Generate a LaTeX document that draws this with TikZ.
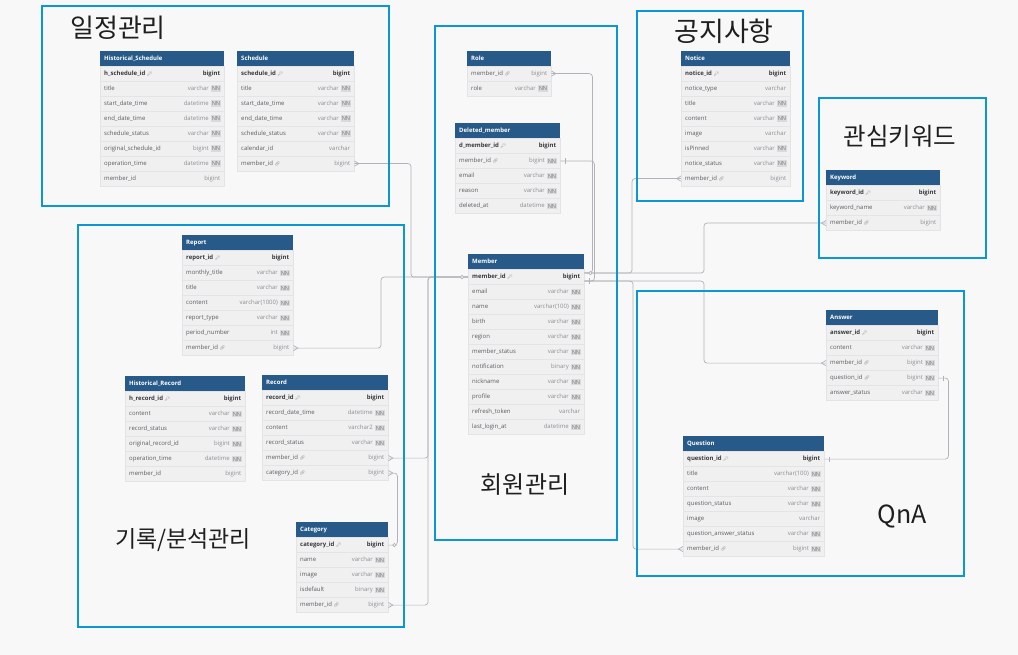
\documentclass[tikz,border=0pt]{standalone}
\usepackage{fontspec}
\setmainfont{Open Sans}
\newfontfamily\hangul{Noto Sans CJK KR}
\newfontfamily\emojifont{Noto Emoji}
\usetikzlibrary{positioning,calc}
\tikzset{>=latex}

\definecolor{erbgcol}{HTML}{F8F8F9}
\definecolor{erheadcol}{HTML}{285A89}
\definecolor{errowcol}{HTML}{F0F0F1}
\definecolor{errowline}{HTML}{E4E4E7}
\definecolor{ertextcol}{HTML}{5C5C60}
\definecolor{erdarkcol}{HTML}{3A3A3E}
\definecolor{ertypecol}{HTML}{8E8E93}
\definecolor{ernncol}{HTML}{DADADD}
\definecolor{ernntext}{HTML}{77777C}
\definecolor{ericoncol}{HTML}{8A8A90}
\definecolor{erlinecol}{HTML}{B2B2BA}
\definecolor{ergroupcol}{HTML}{0B97D3}

\tikzset{
  erhead/.style={fill=erheadcol, minimum height=15pt, inner sep=0pt},
  ertitle/.style={text=white, font=\fontsize{6}{7}\selectfont\bfseries, inner sep=0pt},
  errow/.style={fill=errowcol, draw=errowline, line width=0.4pt, minimum height=15pt, inner sep=0pt},
  ername/.style={text=ertextcol, font=\fontsize{6}{7}\selectfont, inner sep=0pt, text height=4.4pt, text depth=1.3pt},
  ertype/.style={text=ertypecol, font=\fontsize{6}{7}\selectfont, inner sep=0pt, text height=4.4pt, text depth=1.3pt},
  ernn/.style={fill=ernncol, text=ernntext, font=\fontsize{5.6}{6}\selectfont, inner xsep=1pt, inner ysep=1.2pt, text height=4pt, text depth=0pt},
  erline/.style={draw=erlinecol, line width=0.7pt},
  group/.style={draw=ergroupcol, line width=2pt},
  grouptitle/.style={font=\hangul\fontsize{#1}{#1}\selectfont, text=black!88},
  grouptitle/.default=24,
  ercrow/.pic={\draw[erline] (0,-2.6) -- (4.5,0) -- (0,2.6);},
  erone/.pic={\draw[erline] (4.5,-2.6) -- (4.5,2.6);},
  erzero/.pic={\draw[erline, fill=erbgcol] (6,0) circle (1.7);}
}

\newcommand{\keyicon}{\hspace{1.5pt}{\emojifont\fontsize{4.5}{5}\selectfont\color{ericoncol}🔑}}
\newcommand{\linkicon}{\hspace{1.5pt}{\emojifont\fontsize{4.5}{5}\selectfont\color{ericoncol}🔗}}

\pgfkeys{
  /er/pk/.code={\def\erfont{\bfseries\color{erdarkcol}}\def\ericon{\keyicon}},
  /er/fk/.code={\def\ericon{\linkicon}},
  /er/nn/.code={\def\ernn{NN}},
  /er/fknn/.code={\def\ericon{\linkicon}\def\ernn{NN}},
  /er/plain/.code={}
}

% table header: id, x, y, width, title
\newcommand{\ertable}[5]{%
  \expandafter\gdef\csname erw#1\endcsname{#4}%
  \node[erhead, minimum width=#4, anchor=north west] (#1) at (#2,#3) {};
  \node[ertitle, anchor=west] (#1-title) at ([xshift=4pt]#1.west) {#5};}

% table row: id, row, name, type, flag
\newcommand{\erfield}[5]{%
  \def\erfont{}\def\ericon{}\def\ernn{}%
  \edef\ertmp{\noexpand\pgfkeys{/er/#5}}\ertmp
  \edef\erwidth{\csname erw#1\endcsname}%
  \node[errow, minimum width=\erwidth, anchor=north west] (#1-#2) at ($(#1.south west)+(0,{15*(#2-1)})$) {};
  \node[ername, anchor=west] (#1-#2-n) at ([xshift=4pt]#1-#2.west) {\erfont #3\ericon};
  \ifx\ernn\empty
    \node[ertype, anchor=east] (#1-#2-t) at ([xshift=-4pt]#1-#2.east) {\erfont #4};
  \else
    \node[ernn, anchor=east] (#1-#2-nn) at ([xshift=-3pt]#1-#2.east) {NN};
    \node[ertype, anchor=east] (#1-#2-t) at ([xshift=-1.5pt]#1-#2-nn.west) {#4};
  \fi}

\begin{document}
\begin{tikzpicture}[x=1pt, y=-1pt]
	\path[fill=erbgcol, use as bounding box] (0,0) rectangle (1018,655);

	% Tables

	\ertable{hschedule}{100}{50.5}{124}{Historical\_Schedule}
	\foreach \n/\t/\f [count=\k] in {h\_schedule\_id/bigint/pk, title/varchar/nn, start\_date\_time/datetime/nn, end\_date\_time/datetime/nn, schedule\_status/varchar/nn, original\_schedule\_id/bigint/nn, operation\_time/datetime/nn, member\_id/bigint/plain}
		{\erfield{hschedule}{\k}{\n}{\t}{\f}}

	\ertable{schedule}{237}{50.5}{117}{Schedule}
	\foreach \n/\t/\f [count=\k] in {schedule\_id/bigint/pk, title/varchar/nn, start\_date\_time/varchar/nn, end\_date\_time/varchar/nn, schedule\_status/varchar/nn, calendar\_id/varchar/plain, member\_id/bigint/fk}
		{\erfield{schedule}{\k}{\n}{\t}{\f}}

	\ertable{role}{467}{50.5}{84}{Role}
	\foreach \n/\t/\f [count=\k] in {member\_id/bigint/fk, role/varchar/nn}
		{\erfield{role}{\k}{\n}{\t}{\f}}

	\ertable{deleted}{455}{123}{105}{Deleted\_member}
	\foreach \n/\t/\f [count=\k] in {d\_member\_id/bigint/pk, member\_id/bigint/fknn, email/varchar/nn, reason/varchar/nn, deleted\_at/datetime/nn}
		{\erfield{deleted}{\k}{\n}{\t}{\f}}

	\ertable{member}{468}{254}{116}{Member}
	\foreach \n/\t/\f [count=\k] in {member\_id/bigint/pk, email/varchar/nn, name/varchar(100)/nn, birth/varchar/nn, region/varchar/nn, member\_status/varchar/nn, notification/binary/nn, nickname/varchar/nn, profile/varchar/nn, refresh\_token/varchar/plain, last\_login\_at/datetime/nn}
		{\erfield{member}{\k}{\n}{\t}{\f}}

	\ertable{notice}{681}{50.5}{109}{Notice}
	\foreach \n/\t/\f [count=\k] in {notice\_id/bigint/pk, notice\_type/varchar/plain, title/varchar/nn, content/varchar/nn, image/varchar/plain, isPinned/varchar/nn, notice\_status/varchar/nn, member\_id/bigint/fk}
		{\erfield{notice}{\k}{\n}{\t}{\f}}

	\ertable{keyword}{826}{170}{114}{Keyword}
	\foreach \n/\t/\f [count=\k] in {keyword\_id/bigint/pk, keyword\_name/varchar/nn, member\_id/bigint/fk}
		{\erfield{keyword}{\k}{\n}{\t}{\f}}

	\ertable{report}{182}{235}{111}{Report}
	\foreach \n/\t/\f [count=\k] in {report\_id/bigint/pk, monthly\_title/varchar/nn, title/varchar/nn, content/varchar(1000)/nn, report\_type/varchar/nn, period\_number/int/nn, member\_id/bigint/fk}
		{\erfield{report}{\k}{\n}{\t}{\f}}

	\ertable{hrecord}{125}{376}{120}{Historical\_Record}
	\foreach \n/\t/\f [count=\k] in {h\_record\_id/bigint/pk, content/varchar/nn, record\_status/varchar/nn, original\_record\_id/bigint/nn, operation\_time/datetime/nn, member\_id/bigint/plain}
		{\erfield{hrecord}{\k}{\n}{\t}{\f}}

	\ertable{record}{262}{375}{126}{Record}
	\foreach \n/\t/\f [count=\k] in {record\_id/bigint/pk, record\_date\_time/datetime/nn, content/varchar2/nn, record\_status/varchar/nn, member\_id/bigint/fk, category\_id/bigint/fk}
		{\erfield{record}{\k}{\n}{\t}{\f}}

	\ertable{category}{296}{522}{92}{Category}
	\foreach \n/\t/\f [count=\k] in {category\_id/bigint/pk, name/varchar/nn, image/varchar/nn, isdefault/binary/nn, member\_id/bigint/fk}
		{\erfield{category}{\k}{\n}{\t}{\f}}

	\ertable{answer}{826}{310}{112}{Answer}
	\foreach \n/\t/\f [count=\k] in {answer\_id/bigint/pk, content/varchar/nn, member\_id/bigint/fknn, question\_id/bigint/fknn, answer\_status/varchar/nn}
		{\erfield{answer}{\k}{\n}{\t}{\f}}

	\ertable{question}{683}{436}{141}{Question}
	\foreach \n/\t/\f [count=\k] in {question\_id/bigint/pk, title/varchar(100)/nn, content/varchar/nn, question\_status/varchar/nn, image/varchar/plain, question\_answer\_status/varchar/nn, member\_id/bigint/fknn}
		{\erfield{question}{\k}{\n}{\t}{\f}}

	% Relations

	\draw[erline, rounded corners=3pt] (schedule-7.east) -| ($(member-1.west)+(-57,0)$) -- (member-1.west);
	\draw[erline, rounded corners=3pt] (report-7.east) -| ($(member-1.west)+(-87,0)$) -- (member-1.west);
	\draw[erline, rounded corners=3pt] (record-5.east) -| ($(member-1.west)+(-40,0)$) -- (member-1.west);
	\draw[erline, rounded corners=3pt] (category-5.east) -| ($(member-1.west)+(-40,0)$) -- (member-1.west);
	\draw[erline, rounded corners=3pt] (record-6.east) -| ($(category-1.east)+(9,0)$) -- (category-1.east);

	\draw[erline, rounded corners=3pt] (role-1.east) -| ($(member-1.east)+(8,-4)$) -- ($(member-1.east)+(0,-4)$);
	\draw[erline, rounded corners=3pt] (deleted-2.east) -| ($(member-1.east)+(10,4)$) -- ($(member-1.east)+(0,4)$);
	\draw[erline, rounded corners=3pt] ($(member-1.east)+(0,-4)$) -| ($(notice-8.west)+(-49,0)$) -- (notice-8.west);
	\draw[erline, rounded corners=3pt] ($(member-1.east)+(0,-4)$) -| ($(keyword-3.west)+(-122,0)$) -- (keyword-3.west);
	\draw[erline, rounded corners=3pt] ($(member-1.east)+(0,4)$) -| ($(question-7.west)+(-50,0)$) -- (question-7.west);
	\draw[erline, rounded corners=3pt] ($(member-1.east)+(0,4)$) -| ($(answer-3.west)+(-122,0)$) -- (answer-3.west);
	\draw[erline, rounded corners=3pt] (question-1.east) -| ($(answer-4.east)+(10,0)$) -- (answer-4.east);

	\pic at (schedule-7.east) {ercrow};
	\pic at (report-7.east) {ercrow};
	\pic at (record-5.east) {ercrow};
	\pic at (record-6.east) {ercrow};
	\pic at (category-1.east) {erzero};
	\pic at (category-5.east) {ercrow};
	\pic at (role-1.east) {ercrow};
	\pic at (deleted-2.east) {erone};
	\pic[xscale=-1] at (member-1.west) {erzero};
	\pic at ($(member-1.east)+(0,-4)$) {erzero};
	\pic at ($(member-1.east)+(0,4)$) {erone};
	\pic[xscale=-1] at (notice-8.west) {ercrow};
	\pic[xscale=-1] at (keyword-3.west) {ercrow};
	\pic[xscale=-1] at (answer-3.west) {ercrow};
	\pic at (answer-4.east) {erone};
	\pic at (question-1.east) {erone};
	\pic[xscale=-1] at (question-7.west) {ercrow};

	% Groups

	\draw[group] (42,6) rectangle (389,206);
	\draw[group] (435,26) rectangle (617,540);
	\draw[group] (637,11) rectangle (803,201);
	\draw[group] (819,98) rectangle (986,258);
	\draw[group] (78,225) rectangle (404,627);
	\draw[group] (637,291) rectangle (964,576);

	\node[grouptitle=26] (t-schedule) at (118,28) {일정관리};
	\node[grouptitle=27] (t-notice) at (724,31) {공지사항};
	\node[grouptitle=24.5] (t-keyword) at (900,136) {관심키워드};
	\node[grouptitle=23] (t-record) at (183,540) {기록/분석관리};
	\node[grouptitle=24] (t-member) at (525,485) {회원관리};
	\node[grouptitle=25] (t-qna) at (902,516) {QnA};

\end{tikzpicture}
\end{document}
